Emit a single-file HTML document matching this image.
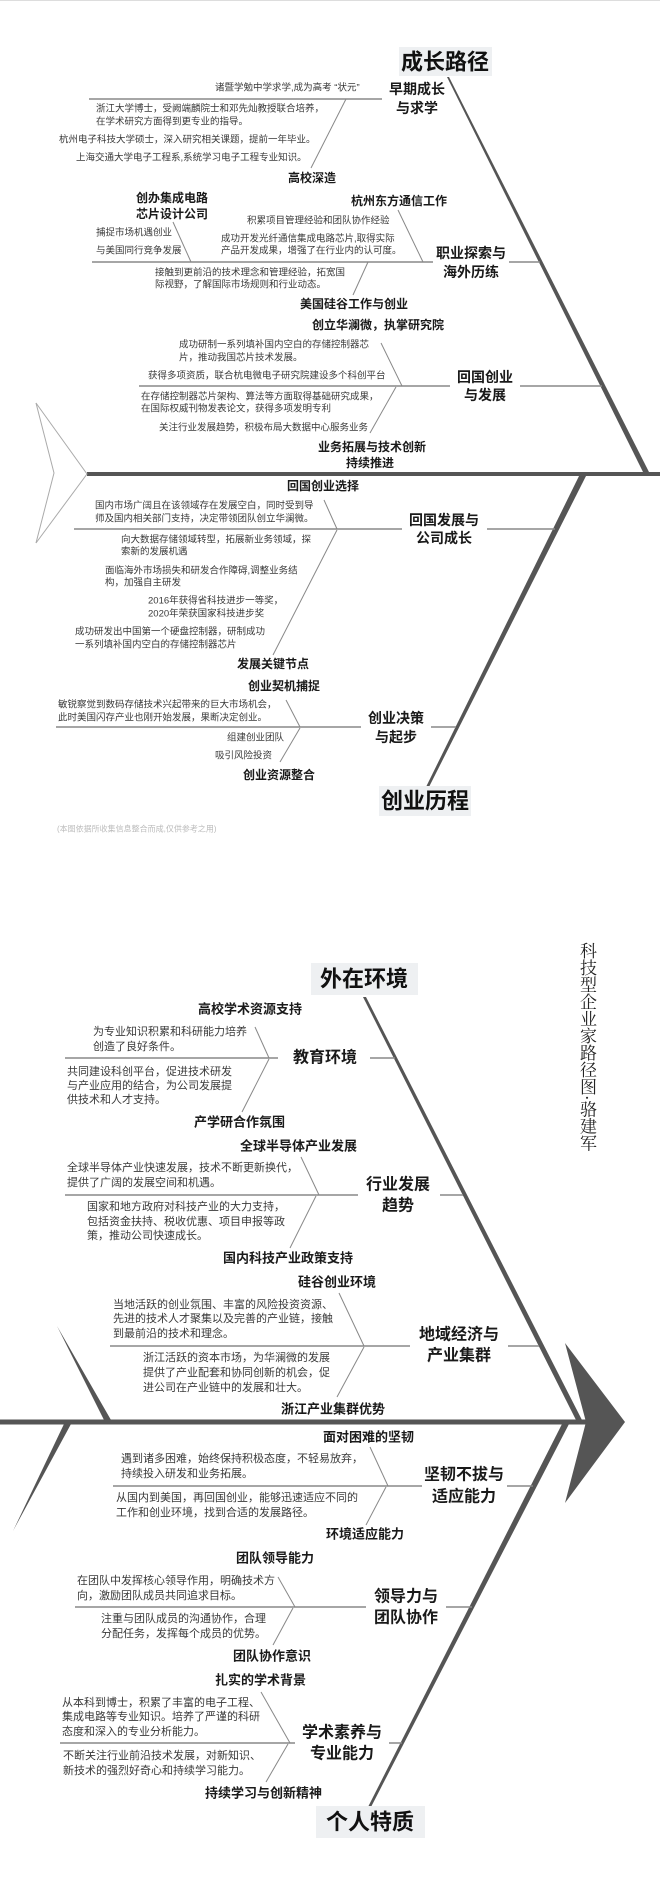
<!DOCTYPE html>
<html><head><meta charset="utf-8"><style>
html,body{margin:0;padding:0;background:#fff;}
body{width:660px;height:1886px;position:relative;overflow:hidden;}
svg{position:absolute;left:0;top:0;}
text{font-family:"Liberation Sans","Noto Sans CJK SC",sans-serif;dominant-baseline:central;}
.s{font-size:9.5px;fill:#3a3a3a;}
.m{font-size:11px;fill:#3a3a3a;}
.l{font-size:14px;font-weight:bold;fill:#1a1a1a;text-anchor:middle;}
.L{font-size:16px;font-weight:bold;fill:#1a1a1a;text-anchor:middle;}
.sl{font-size:12px;font-weight:bold;fill:#1a1a1a;}
.SL{font-size:13px;font-weight:bold;fill:#1a1a1a;}
.T{font-size:22px;font-weight:bold;fill:#111;text-anchor:middle;}
.b{stroke:#888;stroke-width:1.5;fill:none;}
.d{stroke:#888;stroke-width:1;fill:none;}
#vt{position:absolute;left:580px;top:942px;writing-mode:vertical-rl;font-family:"Noto Serif CJK SC","Liberation Serif",serif;font-size:17px;line-height:17px;color:#222;letter-spacing:0px;}
</style></head><body>
<svg width="660" height="1886" viewBox="0 0 660 1886">
<line x1="0" y1="0.5" x2="660" y2="0.5" stroke="#ddd" stroke-width="1"/>
<!-- PART 1 skeleton -->
<rect x="399" y="47" width="93" height="29" fill="#eef0f2"/>
<text class="T" x="445" y="62">成长路径</text>
<polygon points="447,77 449,77 650,474 644,474" fill="#555"/>
<line x1="87" y1="474" x2="660" y2="474" stroke="#555" stroke-width="4"/>
<polyline points="36,403 87,474 36,543" stroke="#aaa" stroke-width="1" fill="none"/>
<polyline points="36,403 54,473 36,543" stroke="#aaa" stroke-width="1" fill="none"/>
<polygon points="580,474 587,474 429,787 426,787" fill="#555"/>
<rect x="379" y="786" width="92" height="30" fill="#eef0f2"/>
<text class="T" x="425" y="801">创业历程</text>
<text x="57" y="829" style="font-size:8px;fill:#bbb;">(本图依据所收集信息整合而成,仅供参考之用)</text>

<!-- part1 branch lines -->
<line class="b" x1="89" y1="99" x2="382" y2="99"/>
<line class="b" x1="92" y1="262" x2="433" y2="262"/><line class="b" x1="509" y1="262" x2="540" y2="262"/>
<line class="b" x1="139" y1="386" x2="450" y2="386"/><line class="b" x1="520" y1="386" x2="602" y2="386"/>
<line class="b" x1="74" y1="529" x2="402" y2="529"/><line class="b" x1="487" y1="529" x2="555" y2="529"/>
<line class="b" x1="56" y1="727" x2="361" y2="727"/><line class="b" x1="431" y1="727" x2="456" y2="727"/>
<line class="d" x1="346" y1="99" x2="311" y2="168"/>
<line class="d" x1="398" y1="210" x2="423" y2="262"/>
<line class="d" x1="173" y1="222" x2="191" y2="262"/>
<line class="d" x1="368" y1="262" x2="353" y2="295"/>
<line class="d" x1="381" y1="343" x2="402" y2="386"/>
<line class="d" x1="396" y1="387" x2="370" y2="433"/>
<line class="d" x1="324" y1="500" x2="337" y2="529"/>
<line class="d" x1="337" y1="530" x2="273" y2="655"/>
<line class="d" x1="286" y1="700" x2="300" y2="727"/>
<line class="d" x1="300" y1="728" x2="280" y2="762"/>

<!-- part1 labels -->
<text class="l" x="417" y="89">早期成长</text><text class="l" x="417" y="108">与求学</text>
<text class="l" x="471" y="253">职业探索与</text><text class="l" x="471" y="272">海外历练</text>
<text class="l" x="485" y="377">回国创业</text><text class="l" x="485" y="395">与发展</text>
<text class="l" x="444" y="520">回国发展与</text><text class="l" x="444" y="538">公司成长</text>
<text class="l" x="396" y="718">创业决策</text><text class="l" x="396" y="737">与起步</text>
<text class="sl" x="288" y="178">高校深造</text>
<text class="sl" x="351" y="201">杭州东方通信工作</text>
<text class="sl" x="136" y="198">创办集成电路</text><text class="sl" x="136" y="214">芯片设计公司</text>
<text class="sl" x="300" y="304">美国硅谷工作与创业</text>
<text class="sl" x="312" y="325">创立华澜微，执掌研究院</text>
<text class="sl" x="318" y="447">业务拓展与技术创新</text><text class="sl" x="346" y="463">持续推进</text>
<text class="sl" x="287" y="486">回国创业选择</text>
<text class="sl" x="237" y="664">发展关键节点</text>
<text class="sl" x="248" y="686">创业契机捕捉</text>
<text class="sl" x="243" y="775">创业资源整合</text>

<!-- part1 small text -->
<text class="s" x="215" y="88">诸暨学勉中学求学,成为高考 “状元”</text>
<text class="s" x="96" y="109">浙江大学博士，受阙端麟院士和邓先灿教授联合培养，</text>
<text class="s" x="96" y="122">在学术研究方面得到更专业的指导。</text>
<text class="s" x="59" y="140">杭州电子科技大学硕士，深入研究相关课题，提前一年毕业。</text>
<text class="s" x="76" y="158">上海交通大学电子工程系,系统学习电子工程专业知识。</text>
<text class="s" x="247" y="221">积累项目管理经验和团队协作经验</text>
<text class="s" x="221" y="239">成功开发光纤通信集成电路芯片,取得实际</text>
<text class="s" x="221" y="251">产品开发成果，增强了在行业内的认可度。</text>
<text class="s" x="96" y="233">捕捉市场机遇创业</text>
<text class="s" x="96" y="251">与美国同行竞争发展</text>
<text class="s" x="155" y="273">接触到更前沿的技术理念和管理经验，拓宽国</text>
<text class="s" x="155" y="285">际视野，了解国际市场规则和行业动态。</text>
<text class="s" x="179" y="345">成功研制一系列填补国内空白的存储控制器芯</text>
<text class="s" x="179" y="358">片，推动我国芯片技术发展。</text>
<text class="s" x="148" y="376">获得多项资质，联合杭电微电子研究院建设多个科创平台</text>
<text class="s" x="141" y="397">在存储控制器芯片架构、算法等方面取得基础研究成果，</text>
<text class="s" x="141" y="409">在国际权威刊物发表论文，获得多项发明专利</text>
<text class="s" x="159" y="428">关注行业发展趋势，积极布局大数据中心服务业务</text>
<text class="s" x="95" y="506">国内市场广阔且在该领域存在发展空白，同时受到导</text>
<text class="s" x="95" y="519">师及国内相关部门支持，决定带领团队创立华澜微。</text>
<text class="s" x="121" y="540">向大数据存储领域转型，拓展新业务领域，探</text>
<text class="s" x="121" y="552">索新的发展机遇</text>
<text class="s" x="105" y="571">面临海外市场损失和研发合作障碍,调整业务结</text>
<text class="s" x="105" y="583">构，加强自主研发</text>
<text class="s" x="148" y="601">2016年获得省科技进步一等奖，</text>
<text class="s" x="148" y="614">2020年荣获国家科技进步奖</text>
<text class="s" x="75" y="632">成功研发出中国第一个硬盘控制器，研制成功</text>
<text class="s" x="75" y="645">一系列填补国内空白的存储控制器芯片</text>
<text class="s" x="58" y="705">敏锐察觉到数码存储技术兴起带来的巨大市场机会，</text>
<text class="s" x="58" y="718">此时美国闪存产业也刚开始发展，果断决定创业。</text>
<text class="s" x="227" y="738">组建创业团队</text>
<text class="s" x="215" y="756">吸引风险投资</text>

<!-- PART 2 skeleton -->
<rect x="311" y="963" width="107" height="32" fill="#eef0f2"/>
<text class="T" x="364" y="979">外在环境</text>
<polygon points="363,997 366,997 583,1422 577,1422" fill="#555"/>
<line x1="0" y1="1422" x2="587" y2="1422" stroke="#555" stroke-width="5"/>
<polygon points="565,1343 625,1422 565,1503 586,1422" fill="#555"/>
<polygon points="57,1326 104,1420 111,1420" fill="#555"/>
<polygon points="64,1424 71,1424 13,1531" fill="#555"/>
<polygon points="562,1424 569,1424 371,1807 368,1807" fill="#555"/>
<rect x="316" y="1806" width="109" height="32" fill="#eef0f2"/>
<text class="T" x="370" y="1822">个人特质</text>

<!-- part2 lines -->
<line class="b" x1="65" y1="1058" x2="278" y2="1058"/><line class="b" x1="370" y1="1058" x2="395" y2="1058"/>
<line class="b" x1="65" y1="1195" x2="358" y2="1195"/><line class="b" x1="440" y1="1195" x2="463" y2="1195"/>
<line class="b" x1="110" y1="1346" x2="410" y2="1346"/><line class="b" x1="508" y1="1346" x2="539" y2="1346"/>
<line class="b" x1="113" y1="1486" x2="422" y2="1486"/><line class="b" x1="507" y1="1486" x2="533" y2="1486"/>
<line class="b" x1="75" y1="1607" x2="366" y2="1607"/><line class="b" x1="446" y1="1607" x2="472" y2="1607"/>
<line class="b" x1="60" y1="1743" x2="295" y2="1743"/><line class="b" x1="389" y1="1743" x2="402" y2="1743"/>
<line class="d" x1="255" y1="1027" x2="269" y2="1058"/>
<line class="d" x1="269" y1="1059" x2="242" y2="1112"/>
<line class="d" x1="301" y1="1157" x2="319" y2="1195"/>
<line class="d" x1="316" y1="1196" x2="290" y2="1248"/>
<line class="d" x1="339" y1="1293" x2="364" y2="1346"/>
<line class="d" x1="364" y1="1347" x2="337" y2="1397"/>
<line class="d" x1="370" y1="1447" x2="388" y2="1486"/>
<line class="d" x1="386" y1="1487" x2="366" y2="1525"/>
<line class="d" x1="278" y1="1577" x2="295" y2="1607"/>
<line class="d" x1="293" y1="1608" x2="273" y2="1645"/>
<line class="d" x1="261" y1="1692" x2="290" y2="1743"/>
<line class="d" x1="288" y1="1744" x2="266" y2="1782"/>

<!-- part2 labels -->
<text class="L" x="325" y="1058">教育环境</text>
<text class="L" x="398" y="1185">行业发展</text><text class="L" x="398" y="1206">趋势</text>
<text class="L" x="459" y="1335">地域经济与</text><text class="L" x="459" y="1356">产业集群</text>
<text class="L" x="464" y="1475">坚韧不拔与</text><text class="L" x="464" y="1497">适应能力</text>
<text class="L" x="406" y="1597">领导力与</text><text class="L" x="406" y="1618">团队协作</text>
<text class="L" x="342" y="1733">学术素养与</text><text class="L" x="342" y="1754">专业能力</text>
<text class="SL" x="198" y="1009">高校学术资源支持</text>
<text class="SL" x="194" y="1122">产学研合作氛围</text>
<text class="SL" x="240" y="1146">全球半导体产业发展</text>
<text class="SL" x="223" y="1258">国内科技产业政策支持</text>
<text class="SL" x="298" y="1282">硅谷创业环境</text>
<text class="SL" x="281" y="1409">浙江产业集群优势</text>
<text class="SL" x="323" y="1437">面对困难的坚韧</text>
<text class="SL" x="326" y="1534">环境适应能力</text>
<text class="SL" x="236" y="1558">团队领导能力</text>
<text class="SL" x="233" y="1656">团队协作意识</text>
<text class="SL" x="215" y="1680">扎实的学术背景</text>
<text class="SL" x="205" y="1793">持续学习与创新精神</text>

<!-- part2 text -->
<text class="m" x="93" y="1032">为专业知识积累和科研能力培养</text>
<text class="m" x="93" y="1047">创造了良好条件。</text>
<text class="m" x="67" y="1072">共同建设科创平台，促进技术研发</text>
<text class="m" x="67" y="1086">与产业应用的结合，为公司发展提</text>
<text class="m" x="67" y="1100">供技术和人才支持。</text>
<text class="m" x="67" y="1168">全球半导体产业快速发展，技术不断更新换代，</text>
<text class="m" x="67" y="1183">提供了广阔的发展空间和机遇。</text>
<text class="m" x="87" y="1207">国家和地方政府对科技产业的大力支持，</text>
<text class="m" x="87" y="1222">包括资金扶持、税收优惠、项目申报等政</text>
<text class="m" x="87" y="1236">策，推动公司快速成长。</text>
<text class="m" x="113" y="1305">当地活跃的创业氛围、丰富的风险投资资源、</text>
<text class="m" x="113" y="1319">先进的技术人才聚集以及完善的产业链，接触</text>
<text class="m" x="113" y="1334">到最前沿的技术和理念。</text>
<text class="m" x="143" y="1358">浙江活跃的资本市场，为华澜微的发展</text>
<text class="m" x="143" y="1373">提供了产业配套和协同创新的机会，促</text>
<text class="m" x="143" y="1388">进公司在产业链中的发展和壮大。</text>
<text class="m" x="121" y="1459">遇到诸多困难，始终保持积极态度，不轻易放弃，</text>
<text class="m" x="121" y="1474">持续投入研发和业务拓展。</text>
<text class="m" x="116" y="1498">从国内到美国，再回国创业，能够迅速适应不同的</text>
<text class="m" x="116" y="1513">工作和创业环境，找到合适的发展路径。</text>
<text class="m" x="77" y="1581">在团队中发挥核心领导作用，明确技术方</text>
<text class="m" x="77" y="1596">向，激励团队成员共同追求目标。</text>
<text class="m" x="101" y="1619">注重与团队成员的沟通协作，合理</text>
<text class="m" x="101" y="1634">分配任务，发挥每个成员的优势。</text>
<text class="m" x="62" y="1703">从本科到博士，积累了丰富的电子工程、</text>
<text class="m" x="62" y="1717">集成电路等专业知识。培养了严谨的科研</text>
<text class="m" x="62" y="1732">态度和深入的专业分析能力。</text>
<text class="m" x="63" y="1756">不断关注行业前沿技术发展，对新知识、</text>
<text class="m" x="63" y="1771">新技术的强烈好奇心和持续学习能力。</text>
</svg>
<div id="vt">科技型企业家路径图·骆建军</div>
</body></html>
